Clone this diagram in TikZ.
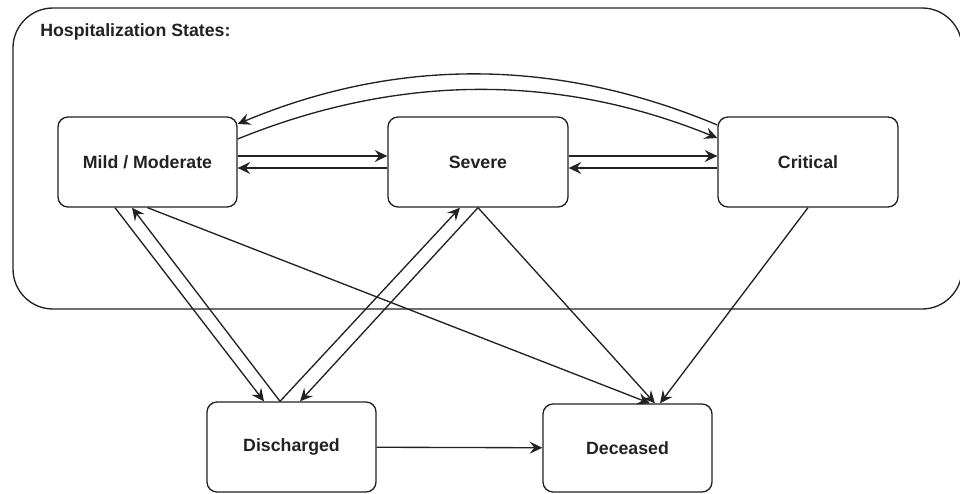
\documentclass[tikz,border=0pt]{standalone}
\usepackage{fontspec}
\setmainfont{Liberation Sans}
\usetikzlibrary{arrows.meta}
\definecolor{inkgray}{RGB}{34,34,34}
\begin{document}
\begin{tikzpicture}[x=0.75pt,y=0.75pt,yscale=-1,xscale=1,
  state/.style={draw=inkgray,line width=1pt,rounded corners=7.5pt,minimum height=67.5pt,inner sep=0pt,text=inkgray,font=\bfseries\fontsize{13.3}{16}\selectfont},
  link/.style={draw=inkgray,line width=1pt,-{Stealth[length=9.5pt,width=9pt,inset=3.5pt]}}]
\useasboundingbox (0,0) rectangle (960,493);

%Shape: Rounded Rect [container]
\draw [inkgray, line width=1pt, rounded corners=30pt] (13,8) rectangle (962,309);

% Text Node
\node (title) [anchor=base west, inner sep=0pt, text=inkgray, font=\bfseries\fontsize{13.3}{16}\selectfont] at (40,36) {Hospitalization States:};

%Shape: States
\node (mild) [state, minimum width=134.25pt] at (147.5,162) {Mild / Moderate};
\node (severe) [state, minimum width=135pt] at (478,162) {Severe};
\node (critical) [state, minimum width=135pt] at (808,162) {Critical};
\node (discharged) [state, minimum width=126.75pt] at (291.5,447) {Discharged};
\node (deceased) [state, minimum width=126.75pt, minimum height=66pt] at (627.5,448) {Deceased};

%Straight Lines [top row]
\draw [link] ([yshift=-4.5pt]mild.east) -- ([yshift=-4.5pt]severe.west);
\draw [link] ([yshift=4.5pt]severe.west) -- ([yshift=4.5pt]mild.east);
\draw [link] ([yshift=-4.5pt]severe.east) -- ([yshift=-4.5pt]critical.west);
\draw [link] ([yshift=4.5pt]critical.west) -- ([yshift=4.5pt]severe.east);

%Curve Lines [mild <-> critical]
\draw [link] ([yshift=-17.25pt]mild.east) .. controls +(160,-65) and +(-160,-65) .. ([yshift=-18pt]critical.west);
\draw [link] ([yshift=-27.75pt]critical.west) .. controls +(-160,-67) and +(160,-67) .. ([yshift=-28.5pt]mild.east);

%Straight Lines [down to discharged]
\draw [link] ([xshift=-24.4pt]mild.south) -- ([xshift=-20.6pt]discharged.north);
\draw [link] ([xshift=-8.6pt]discharged.north) -- ([xshift=-11.6pt]mild.south);
\draw [link] ([xshift=-8.6pt]discharged.north) -- ([xshift=-13.5pt]severe.south);
\draw [link] (severe.south) -- ([xshift=6.4pt]discharged.north);

%Straight Lines [down to deceased]
\draw [link] (mild.south) -- ([xshift=16.9pt]deceased.north);
\draw [link] (severe.south) -- ([xshift=20.6pt]deceased.north);
\draw [link] (critical.south) -- ([xshift=24.4pt]deceased.north);
\draw [link] (discharged) -- (deceased);

\end{tikzpicture}
\end{document}
